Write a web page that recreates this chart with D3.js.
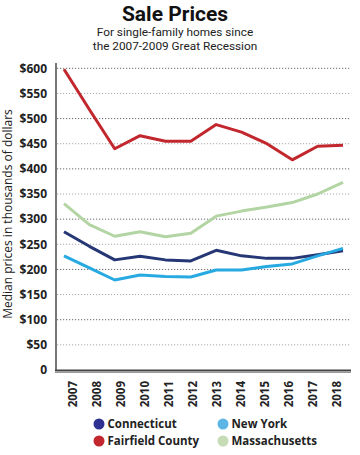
<!DOCTYPE html>
<html><head><meta charset="utf-8">
<script src="https://cdn.jsdelivr.net/npm/d3@7"></script>
<style>body{margin:0;background:#fff}svg{display:block}</style>
</head><body>
<svg id="c" width="360" height="455"></svg>
<script>
const years = ["2007","2008","2009","2010","2011","2012","2013","2014","2015","2016","2017","2018"];
const connecticut = [275,246,219,226,219,217,238,227,222,222,229,237];
const fairfield   = [598,518,440,466,455,455,488,473,450,418,445,447];
const newYork     = [227,203,179,189,186,185,199,199,206,211,227,242];
const massachusetts = [331,289,266,275,265,272,306,316,324,333,350,373];
const yTicks = [0,50,100,150,200,250,300,350,400,450,500,550,600];
const seriesNames = ["Connecticut","Fairfield County","New York","Massachusetts"];

const font = "'Open Sans', sans-serif";
const tfont = "Roboto, sans-serif";
const svg = d3.select("#c");
const x = d3.scalePoint().domain(years).range([64, 343]);
const xLab = d3.scalePoint().domain(years).range([72.5, 336]);
const y = d3.scaleLinear().domain([0,600]).range([370, 68.3]);

// title
svg.append("text").attr("x",175).attr("y",21).attr("text-anchor","middle")
  .attr("font-family",tfont).attr("font-weight",700).attr("font-size",21).attr("fill","#111").text("Sale Prices");
svg.append("text").attr("x",175).attr("y",36).attr("text-anchor","middle")
  .attr("font-family",tfont).attr("font-size",11.8).attr("fill","#222").text("For single-family homes since");
svg.append("text").attr("x",175).attr("y",49.5).attr("text-anchor","middle")
  .attr("font-family",tfont).attr("font-size",11.8).attr("fill","#222").text("the 2007-2009 Great Recession");

// grid
svg.append("g").selectAll("line").data(yTicks.filter(d=>d>0)).join("line")
  .attr("x1",57).attr("x2",351).attr("y1",d=>y(d)).attr("y2",d=>y(d))
  .attr("stroke",(d,i)=> i%2===1 ? "#666" : "#aaa").attr("stroke-width",1)
  .attr("stroke-dasharray","1.2,1.8");

// y axis
const yAxis = svg.append("g").attr("transform","translate(56,0)")
  .call(d3.axisLeft(y).tickValues(yTicks).tickSize(0).tickPadding(9)
    .tickFormat(d=> d===0 ? "0" : "$"+d));
yAxis.select(".domain").remove();
yAxis.selectAll("text").attr("font-family",font).attr("font-weight",700).attr("font-size",12).attr("fill","#222");
svg.append("line").attr("x1",56).attr("x2",56).attr("y1",63).attr("y2",371).attr("stroke","#777").attr("stroke-width",2);

svg.append("text").attr("transform","translate(12,214) rotate(-90)").attr("text-anchor","middle")
  .attr("font-family",font).attr("font-size",12).attr("fill","#222").text("Median prices in thousands of dollars");

// x axis
const xAxis = svg.append("g").attr("transform","translate(0,371)")
  .call(d3.axisBottom(xLab).tickSize(0).tickPadding(0));
xAxis.select(".domain").remove();
xAxis.selectAll("text").attr("font-family",font).attr("font-weight",700).attr("font-size",11.5).attr("fill","#222")
  .attr("text-anchor","end").attr("dy",0).attr("x",0).attr("y",0)
  .attr("transform","translate(4,10) rotate(-90)");
svg.append("line").attr("x1",55).attr("x2",351).attr("y1",370.5).attr("y2",370.5).attr("stroke","#444").attr("stroke-width",2);
svg.append("line").attr("x1",55).attr("x2",351).attr("y1",372.5).attr("y2",372.5).attr("stroke","#999").attr("stroke-width",1);

// lines
const line = d3.line().x((d,i)=>x(years[i])).y(d=>y(d));
const series = [
  {v:massachusetts, c:"#b3d4a3"},
  {v:fairfield, c:"#c1272d"},
  {v:connecticut, c:"#253775"},
  {v:newYork, c:"#27aae1"}
];
svg.append("g").selectAll("path").data(series).join("path")
  .attr("d",d=>line(d.v)).attr("fill","none").attr("stroke",d=>d.c)
  .attr("stroke-width",3).attr("stroke-linejoin","round");

// legend
const legend = [
  {n:seriesNames[0], c:"#2e3192", x:99, y:424},
  {n:seriesNames[2], c:"#5db5e6", x:223, y:424},
  {n:seriesNames[1], c:"#c1272d", x:99, y:441},
  {n:seriesNames[3], c:"#c6dcb6", x:223, y:441}
];
const lg = svg.append("g").selectAll("g").data(legend).join("g").attr("transform",d=>`translate(${d.x},${d.y})`);
lg.append("circle").attr("r",5.5).attr("fill",d=>d.c);
lg.append("text").attr("x",8.5).attr("y",4.2).attr("font-family",font).attr("font-weight",700)
  .attr("font-size",11.5).attr("fill","#222").text(d=>d.n);
</script>
</body></html>
